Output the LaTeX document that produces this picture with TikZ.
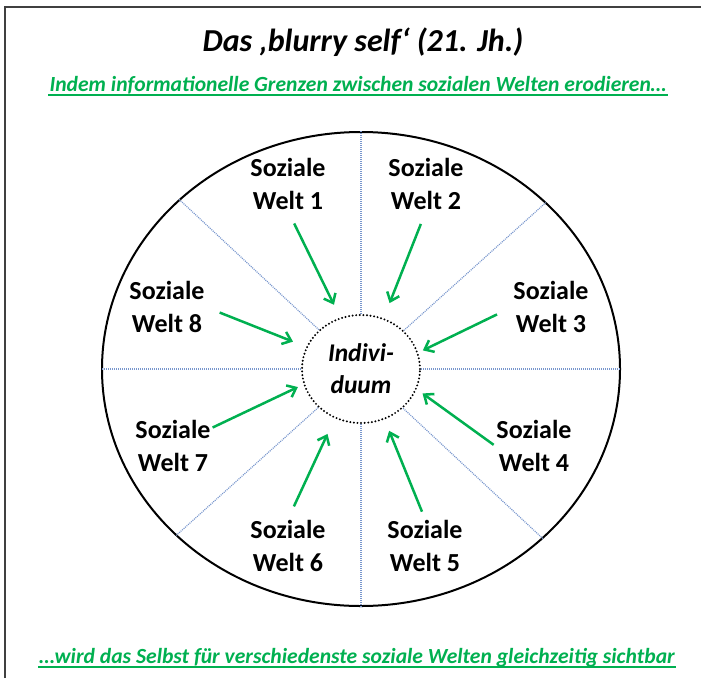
\documentclass[tikz,border=0pt]{standalone}
\usepackage{fontspec}
\setmainfont{Carlito}
\usetikzlibrary{shapes.geometric,arrows.meta}
\definecolor{weltgruen}{RGB}{0,176,80}
\definecolor{trennblau}{RGB}{120,150,205}

\begin{document}
\begin{tikzpicture}[x=1pt,y=-1pt,
	every node/.style={align=center,inner sep=1pt},
	welt/.style={font=\fontsize{26}{33}\selectfont\bfseries},
	zeile/.style={text=weltgruen,font=\fontsize{21.6}{26}\selectfont\bfseries\itshape,anchor=base},
	pfeil/.style={draw=weltgruen,line width=2.5pt,-{Straight Barb[length=8pt,width=13pt]},shorten <=14pt,shorten >=14pt},
	trenner/.style={draw=trennblau,line width=1.2pt,dash pattern=on 1pt off 1pt}]
	\useasboundingbox (0,0) rectangle (701,678);
	\draw[line width=2pt,black!75] (5,678) -- (5,7) -- (701,7);
	% Titel und gruene Zeilen
	\node[anchor=base,font=\fontsize{32}{38}\selectfont\bfseries\itshape] (titel) at (363,51) {Das ‚blurry self‘ (21. Jh.)};
	\node[zeile] (oben) at (358,91) {Indem informationelle Grenzen zwischen sozialen Welten erodieren…};
	\node[zeile] (unten) at (357,663) {…wird das Selbst für verschiedenste soziale Welten gleichzeitig sichtbar};
	\draw[weltgruen,line width=1.5pt] ([yshift=-4pt]oben.base west) -- ([yshift=-4pt]oben.base east);
	\draw[weltgruen,line width=1.5pt] ([yshift=-4pt]unten.base west) -- ([yshift=-4pt]unten.base east);
	% Kreise
	\node[ellipse,draw,line width=2pt,minimum width=518pt,minimum height=474pt] (rand) at (361,369) {};
	\node[ellipse,draw,line width=2.2pt,line cap=round,dash pattern=on 0pt off 3.6pt,
		minimum width=118pt,minimum height=108pt,inner sep=0pt,
		font=\fontsize{25.5}{32}\selectfont\bfseries\itshape] (ind) at (361,369) {Indivi-\\duum};
	\foreach \w in {0,42.6,90,137.4,180,222.6,270,317.4}
		\draw[trenner] (ind.\w) -- (rand.\w);
	% soziale Welten
	\node[welt] (w1) at (288,184) {Soziale\\Welt 1};
	\node[welt] (w2) at (426,184) {Soziale\\Welt 2};
	\node[welt] (w3) at (551,307) {Soziale\\Welt 3};
	\node[welt] (w4) at (534,446) {Soziale\\Welt 4};
	\node[welt] (w5) at (425,546) {Soziale\\Welt 5};
	\node[welt] (w6) at (288,546) {Soziale\\Welt 6};
	\node[welt] (w7) at (173,446) {Soziale\\Welt 7};
	\node[welt] (w8) at (167,307) {Soziale\\Welt 8};
	\draw[pfeil] (w1.south) -- (ind.112);
	\draw[pfeil,shorten >=16pt] (w2.south) -- (ind.66);
	\draw[pfeil,shorten <=17pt,shorten >=5pt] (w3.west) -- (ind.16);
	\draw[pfeil,shorten <=2pt,shorten >=7pt] (w4.west) -- (ind.-20);
	\draw[pfeil,shorten <=8pt,shorten >=12pt] (w5.north) -- (ind.-65);
	\draw[pfeil,shorten >=17pt] (w6.north) -- (ind.-118);
	\draw[pfeil,shorten <=1pt,shorten >=6pt] (w7.25) -- (ind.-165);
	\draw[pfeil,shorten <=15pt] (w8.east) -- (ind.158);
\end{tikzpicture}
\end{document}
